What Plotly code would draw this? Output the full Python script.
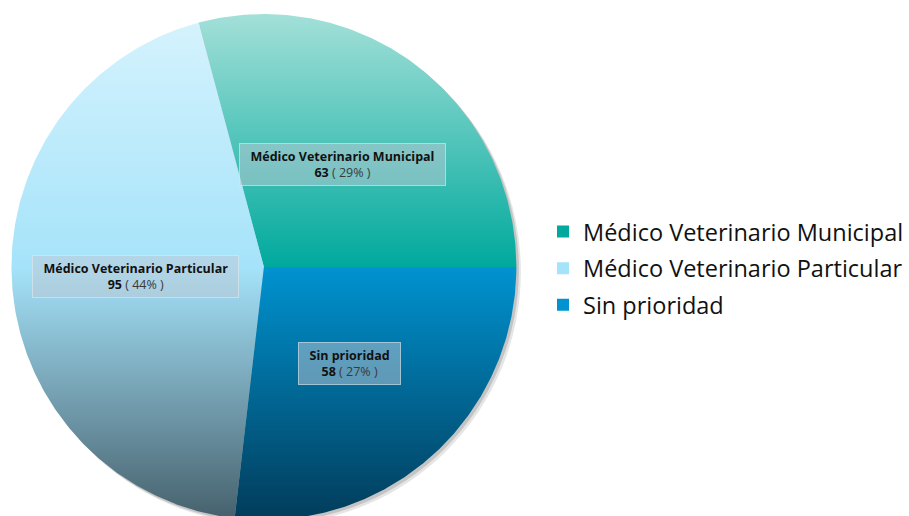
import numpy as np
import plotly.graph_objects as go

# data
categories = ["Médico Veterinario Municipal", "Médico Veterinario Particular", "Sin prioridad"]
counts = [63, 95, 58]

# style: base colour, light top, dark bottom of each slice gradient
base_colors = ["#00a99d", "#a5e3fa", "#0093d0"]
light_colors = ["#a3e0d8", "#d6f3fd", "#7fcbea"]
dark_colors = ["#005a54", "#46606c", "#023c5a"]

FONT = "Open Sans, Noto Sans, sans-serif"
R = 1.0
LABEL_R = 0.51
PAD = "&nbsp;&nbsp;"

total = sum(counts)
shares = [c / total for c in counts]

fig = go.Figure()

# soft drop shadow behind the disc
for off, alpha in [(0.018, 0.10), (0.010, 0.14)]:
    fig.add_shape(
        type="circle", xref="x", yref="y",
        x0=-R + off, x1=R + off, y0=-R - off, y1=R - off,
        fillcolor=f"rgba(0,0,0,{alpha})", line_width=0, layer="below",
    )

# slices: counter-clockwise from 3 o'clock, in legend order
angle = 0.0
for name, share, count, base, light, dark in zip(categories, shares, counts, base_colors, light_colors, dark_colors):
    span = share * 360.0
    theta = np.radians(np.linspace(angle, angle + span, max(int(span * 2), 2)))
    xs = np.concatenate([[0.0], R * np.cos(theta), [0.0]])
    ys = np.concatenate([[0.0], R * np.sin(theta), [0.0]])
    fig.add_trace(go.Scatter(
        x=xs, y=ys, mode="lines", fill="toself",
        line={"width": 0, "color": base},
        fillgradient={
            "type": "vertical",
            "colorscale": [[0, dark], [0.5, base], [1, light]],
            "start": -R, "stop": R,
        },
        hoverinfo="skip", showlegend=False,
    ))
    mid = np.radians(angle + span / 2)
    fig.add_annotation(
        x=LABEL_R * R * np.cos(mid), y=LABEL_R * R * np.sin(mid),
        xref="x", yref="y", showarrow=False,
        text=(f"{PAD}<b>{name}</b>{PAD}<br>{PAD}<b>{count}</b>"
              f"<span style='color:#3a3a3a'> ( {share * 100:.0f}% )</span>{PAD}"),
        font={"family": FONT, "size": 12.5, "color": "#111111"},
        bgcolor="rgba(190,200,212,0.5)",
        bordercolor="rgba(225,230,236,0.65)", borderwidth=1, borderpad=4,
        align="center",
    )
    angle += span

# legend entries
for name, base in zip(categories, base_colors):
    fig.add_trace(go.Scatter(
        x=[None], y=[None], mode="markers", name=name, legendgroup=name,
        marker={"symbol": "square", "size": 12, "color": base},
    ))

cx_px, cy_px, r_px = 264.5, 267.0, 253.0
W, H = 909, 516
fig.update_layout(
    width=W, height=H,
    margin={"l": 0, "r": 0, "t": 0, "b": 0},
    paper_bgcolor="white", plot_bgcolor="white",
    xaxis={"range": [-cx_px / r_px, (W - cx_px) / r_px], "visible": False, "fixedrange": True},
    yaxis={"range": [-(H - cy_px) / r_px, cy_px / r_px], "visible": False, "fixedrange": True},
    showlegend=True,
    legend={
        "x": 0.599, "y": 0.48, "xanchor": "left", "yanchor": "middle",
        "font": {"family": FONT, "size": 23.5, "color": "#111111"},
        "bgcolor": "rgba(0,0,0,0)", "traceorder": "grouped", "tracegroupgap": 3,
        "itemwidth": 30,
    },
)

fig.write_html(
    "out.html",
    config={"displayModeBar": False},
    post_script="document.body.style.margin='0';",
)
